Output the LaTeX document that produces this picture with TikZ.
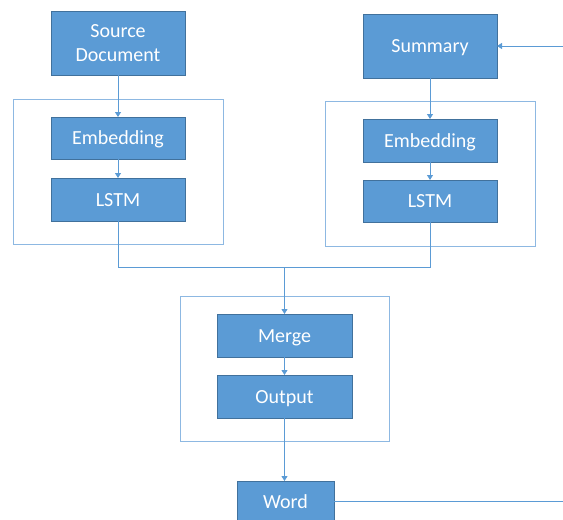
\documentclass[tikz,border=0pt]{standalone}
\usepackage{fontspec}
\setmainfont{Carlito}
\usetikzlibrary{arrows.meta}
\definecolor{boxfill}{HTML}{5B9BD5}
\definecolor{boxline}{HTML}{41719C}
\definecolor{frameline}{HTML}{8DB8E2}
\begin{document}
\begin{tikzpicture}[x=1pt,y=-1pt,
   layer/.style={draw=boxline,fill=boxfill,line width=0.8pt,text=white,
      inner sep=0pt,outer sep=0pt,align=center,minimum width=134pt,
      font=\fontsize{20}{23.5}\selectfont},
   oneline/.style={layer,text height=13pt,text depth=0pt},
   group/.style={draw=frameline,line width=1pt,minimum width=210pt,
      minimum height=145pt,inner sep=0pt,outer sep=0pt},
   link/.style={draw=boxfill,line width=0.8pt},
   flow/.style={link,-{Triangle[width=6pt,length=5pt]}}]
\useasboundingbox (0,0) rectangle (563,520);

% frames
\node[group] (encL) at (118,171.5) {};
\node[group] (encR) at (430,173.5) {};
\node[group,minimum width=209pt] (dec) at (284.5,368.5) {};

% left branch
\node[layer,minimum height=64pt] (src) at (118,43) {Source\\Document};
\node[oneline,minimum height=42pt] (embL) at (118,138) {Embedding};
\node[oneline,minimum height=43pt] (lstmL) at (118,199.5) {LSTM};

% right branch
\node[oneline,minimum height=64pt] (summ) at (430,46) {Summary};
\node[oneline,minimum height=43pt] (embR) at (430,140.5) {Embedding};
\node[oneline,minimum height=42pt] (lstmR) at (430,201) {LSTM};

% merge part
\node[oneline,minimum width=135pt,minimum height=43pt] (merge) at (284.5,335.5) {Merge};
\node[oneline,minimum width=135pt,minimum height=43pt] (out) at (284.5,396.5) {Output};
\node[oneline,minimum width=97pt,minimum height=42pt] (word) at (285.5,502) {Word};

\coordinate (join) at (284.5,267);
\coordinate (sumin) at (563,46);
\coordinate (wordout) at (563,501);

\draw[flow] (src) -- (embL);
\draw[flow] (embL) -- (lstmL);
\draw[flow] (summ) -- (embR);
\draw[flow] (embR) -- (lstmR);
\draw[flow] (sumin) -- (summ);
\draw[link] (lstmL.south) |- (join);
\draw[link] (lstmR.south) |- (join);
\draw[flow] (join) -- (merge.north);
\draw[flow] (merge) -- (out);
\draw[flow] (out.south) -- (out.south |- word.north);
\draw[link] (word.east |- wordout) -- (wordout);
\end{tikzpicture}
\end{document}
